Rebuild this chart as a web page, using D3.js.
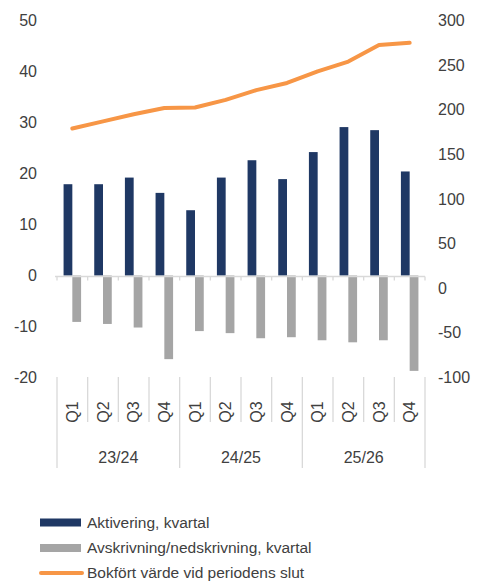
<!DOCTYPE html>
<html>
<head>
<meta charset="utf-8">
<script src="https://cdn.jsdelivr.net/npm/d3@7/dist/d3.min.js"></script>
<style>
  html, body { margin: 0; padding: 0; background: #fff; }
  svg { display: block; }
  text { font-family: "Liberation Sans", Arial, sans-serif; fill: #404040; }
</style>
</head>
<body>
<svg id="chart" width="483" height="581"></svg>
<script>
// ---- Data ----
const years = ["23/24", "24/25", "25/26"];
const quarters = ["Q1", "Q2", "Q3", "Q4"];
const aktivering = [17.9, 17.9, 19.2, 16.2, 12.8, 19.2, 22.6, 18.9, 24.2, 29.1, 28.5, 20.4];
const avskrivning = [-9.1, -9.5, -10.2, -16.4, -10.9, -11.3, -12.3, -12.1, -12.7, -13.1, -12.7, -18.7];
const bokfort = [179, 187, 195, 202, 202.5, 211, 222, 230, 243, 254, 272.5, 275];
const leftTicks = [50, 40, 30, 20, 10, 0, -10, -20];
const rightTicks = [300, 250, 200, 150, 100, 50, 0, -50, -100];
const seriesNames = ["Aktivering, kvartal", "Avskrivning/nedskrivning, kvartal", "Bokfört värde vid periodens slut"];

const colors = { akt: "#1F3864", avs: "#A5A5A5", bok: "#F79646", axis: "#D9D9D9" };

// categories
const cats = [];
years.forEach(y => quarters.forEach(q => cats.push({ year: y, q: q, key: y + "-" + q })));

const svg = d3.select("#chart");
const x0 = 57, x1 = 425, yTop = 20.5, yBot = 377.5;

const x = d3.scaleBand().domain(cats.map(d => d.key)).range([x0, x1]).paddingInner(0).paddingOuter(0);
const xs = d3.scaleBand().domain(["akt", "avs"]).range([0, x.bandwidth()]).paddingInner(0).paddingOuter(0.75);
const yL = d3.scaleLinear().domain([-20, 50]).range([yBot, yTop]);
const yR = d3.scaleLinear().domain([-100, 300]).range([yBot, yTop]);

// Left axis labels
svg.append("g").selectAll("text").data(leftTicks).join("text")
  .attr("x", 37).attr("y", d => yL(d)).attr("dy", "0.35em")
  .attr("text-anchor", "end").style("font-size", "16px").text(d => d);

// Right axis labels
svg.append("g").selectAll("text").data(rightTicks).join("text")
  .attr("x", 438).attr("y", d => yR(d)).attr("dy", "0.35em")
  .attr("text-anchor", "start").style("font-size", "16px").text(d => d);

// Bars
svg.append("g").selectAll("rect").data(aktivering).join("rect")
  .attr("x", (d, i) => x(cats[i].key) + xs("akt"))
  .attr("width", xs.bandwidth())
  .attr("y", d => yL(d)).attr("height", d => yL(0) - yL(d))
  .attr("fill", colors.akt);

svg.append("g").selectAll("rect").data(avskrivning).join("rect")
  .attr("x", (d, i) => x(cats[i].key) + xs("avs"))
  .attr("width", xs.bandwidth())
  .attr("y", yL(0)).attr("height", d => yL(d) - yL(0))
  .attr("fill", colors.avs);

// X axis line at zero
const y0 = yL(0) + 1;
svg.append("line").attr("x1", x0 - 2).attr("x2", x1).attr("y1", y0).attr("y2", y0)
  .attr("stroke", colors.axis).attr("stroke-width", 1.3);
const boundaries = cats.map(d => x(d.key)).concat([x1]);
svg.append("g").selectAll("line").data(boundaries).join("line")
  .attr("x1", d => d).attr("x2", d => d).attr("y1", y0).attr("y2", y0 + 4)
  .attr("stroke", colors.axis).attr("stroke-width", 1.3);

// Category separators below plot
svg.append("g").selectAll("line").data(boundaries).join("line")
  .attr("x1", d => d).attr("x2", d => d)
  .attr("y1", 377)
  .attr("y2", (d, i) => (i % 4 === 0) ? 468 : 422)
  .attr("stroke", colors.axis).attr("stroke-width", 1.3);

// Quarter labels rotated
svg.append("g").selectAll("text").data(cats).join("text")
  .attr("transform", d => `translate(${x(d.key) + x.bandwidth() / 2},412) rotate(-90)`)
  .attr("text-anchor", "middle").attr("dy", "0.35em")
  .style("font-size", "16px").text(d => d.q);

// Year labels
svg.append("g").selectAll("text").data(years).join("text")
  .attr("x", y => (x(y + "-Q1") + x(y + "-Q4") + x.bandwidth()) / 2)
  .attr("y", 457).attr("dy", "0.35em").attr("text-anchor", "middle")
  .style("font-size", "16px").text(d => d);

// Line
const line = d3.line()
  .x((d, i) => x(cats[i].key) + x.bandwidth() / 2)
  .y(d => yR(d));
svg.append("path").datum(bokfort).attr("d", line)
  .attr("fill", "none").attr("stroke", colors.bok).attr("stroke-width", 4)
  .attr("stroke-linejoin", "round").attr("stroke-linecap", "round");

// Legend
const lg = svg.append("g");
const rows = [522.5, 548, 573];
lg.append("rect").attr("x", 40).attr("y", rows[0] - 4).attr("width", 41).attr("height", 8).attr("fill", colors.akt);
lg.append("rect").attr("x", 40).attr("y", rows[1] - 4).attr("width", 41).attr("height", 8).attr("fill", colors.avs);
lg.append("line").attr("x1", 41).attr("x2", 82).attr("y1", rows[2]).attr("y2", rows[2])
  .attr("stroke", colors.bok).attr("stroke-width", 4).attr("stroke-linecap", "round");
lg.selectAll("text").data(seriesNames).join("text")
  .attr("x", 87).attr("y", (d, i) => rows[i]).attr("dy", "0.35em")
  .style("font-size", "15.5px").text(d => d);
</script>
</body>
</html>
